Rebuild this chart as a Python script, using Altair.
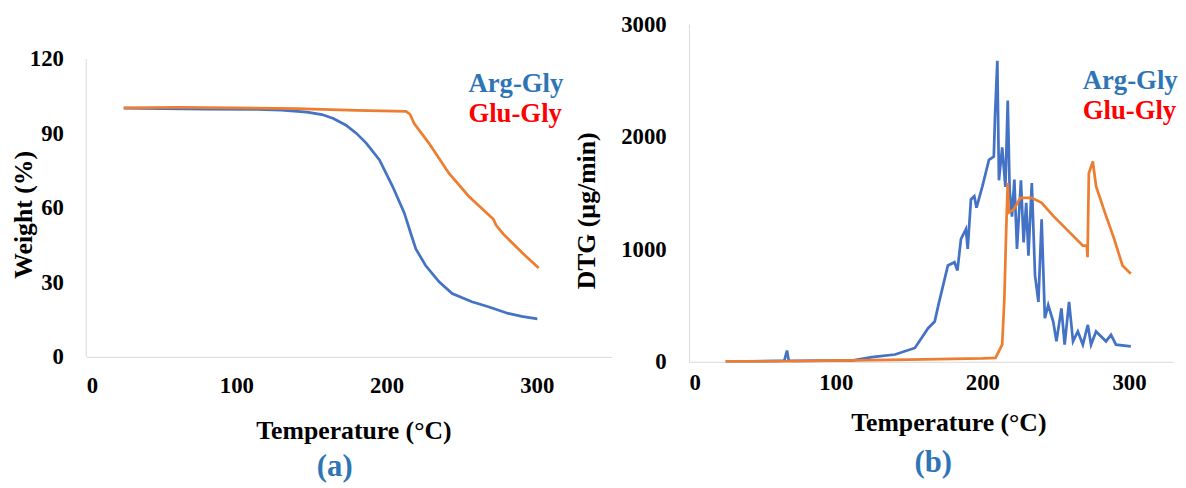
import altair as alt
import pandas as pd

# ---------------- data ----------------
# (a) TGA weight (%)
tga_arg_T = [25, 50, 80, 114, 130, 147, 157, 164.6, 173, 180, 186.6, 195.3, 204, 211.8, 216,
             219.5, 226, 235, 243.7, 256.8, 267.8, 281, 290, 300.4]
tga_arg_W = [100.2, 100, 99.8, 99.7, 99.4, 98.6, 97.6, 96, 93.3, 90, 86, 79.3, 68.7, 58, 50,
             43.5, 36.8, 30.2, 25.5, 22.2, 20.2, 17.5, 16.3, 15.3]
tga_glu_T = [25, 60, 100, 140, 180, 213, 215.6, 218.4, 228.3, 241.5, 254.7, 271.2, 273, 277.8, 290, 301.3]
tga_glu_W = [100.3, 100.5, 100.3, 100, 99.3, 98.9, 97.7, 94, 86, 74, 64.7, 55.4, 53, 49.4, 42.1, 35.8]

# (b) DTG (µg/min)
dtg_arg_T = [25, 40, 60, 65, 66.8, 68, 72, 90, 111, 124.7, 140.5, 154, 163, 167.5, 170, 176.5, 181,
             183, 185.4, 188.8, 190, 192.2, 194.5, 196, 200, 204.5, 207.8, 208.6, 210.2, 211.3,
             213.5, 215.7, 217.3, 218.6, 220.2, 221.8, 223.6, 226.3, 228.1, 229.9, 231.4, 233.7,
             235.9, 238.2, 240.4, 242.6, 244.9, 248.3, 250.5, 253.9, 256.1, 259.1, 261.8, 265.1,
             268.5, 271.9, 274.1, 277.5, 284.3, 287.7, 291.1, 301.2]
dtg_arg_V = [5, 5, 8, 10, 100, 10, 8, 10, 11, 41, 65, 123, 299, 358, 504, 856, 885,
             812, 1091, 1179, 1003, 1443, 1472, 1370, 1560, 1795, 1824, 2176, 2675, 1613,
             1906, 1554, 2323, 1525, 1290, 1619, 1003, 1613, 1062, 1413, 944, 1589,
             768, 533, 1267, 387, 504, 358, 182, 475, 152, 533, 182, 270,
             152, 328, 152, 270, 182, 240, 152, 138]
dtg_glu_T = [25, 60, 100, 150, 200, 209, 213.5, 215, 216.2, 217.3, 218, 221.4, 225.9, 233.7, 240.4,
             248.3, 257.3, 268.5, 271.2, 271.7, 272.6, 275.3, 277.5, 284.3, 289.9, 295.5, 301.2]
dtg_glu_V = [5, 5, 10, 20, 30, 35, 152, 563, 1150, 1589, 1326, 1355, 1458, 1458, 1413,
             1297, 1179, 1032, 1032, 930, 1677, 1780, 1560, 1297, 1091, 856, 783]

series = ["Arg-Gly", "Glu-Gly"]
label_colors = ["#2E75B6", "#FF0000"]
line_colors = ["#4472C4", "#ED7D31"]
legend_a_T = [254.5, 254.5]
legend_a_W = [110, 97.7]
legend_b_T = [268.4, 268.4]
legend_b_V = [2499, 2226]
panel_labels = ["(a)", "(b)"]
panel_a_pos = [165.5, -44.3]
panel_b_pos = [166.5, -897]

FONT = "Liberation Serif"
AXIS_GREY = "#D9D9D9"


def axis_common(**kw):
    base = dict(grid=False, ticks=False, tickSize=0, domainColor=AXIS_GREY,
                labelFont=FONT, labelFontSize=23, labelFontWeight="bold", labelColor="#000000",
                titleFont=FONT, titleFontSize=26, titleFontWeight="bold", titleColor="#000000",
                titleBaseline="middle")
    base.update(kw)
    return alt.Axis(**base)


# ---------------- panel (a) ----------------
da_arg = pd.DataFrame({"T": tga_arg_T, "W": tga_arg_W})
da_glu = pd.DataFrame({"T": tga_glu_T, "W": tga_glu_W})

xa = alt.X("T:Q", scale=alt.Scale(domain=[0, 350], nice=False),
           axis=axis_common(values=[0, 100, 200, 300], title="Temperature (°C)",
                            labelPadding=18, titleX=270, titleY=74))
ya = alt.Y("W:Q", scale=alt.Scale(domain=[0, 133.95], nice=False),
           axis=axis_common(values=[0, 30, 60, 90, 120], title="Weight (%)", domain=False,
                            labelPadding=23, titleX=-63, titleY=192, titleAngle=270))

a_rule = alt.Chart(pd.DataFrame({"T": [0], "W": [0], "W2": [120]})).mark_rule(
    color=AXIS_GREY, strokeWidth=1).encode(x=xa, y="W:Q", y2="W2:Q")
a_arg = alt.Chart(da_arg).mark_line(color=line_colors[0], strokeWidth=2.75).encode(x=xa, y=ya)
a_glu = alt.Chart(da_glu).mark_line(color=line_colors[1], strokeWidth=2.75).encode(x="T:Q", y="W:Q")
a_leg = alt.Chart(pd.DataFrame({"T": legend_a_T, "W": legend_a_W, "s": series, "c": label_colors})).mark_text(
    align="left", baseline="middle", font=FONT, fontSize=27, fontWeight="bold").encode(
    x="T:Q", y="W:Q", text="s:N", color=alt.Color("c:N", scale=None))
a_lab = alt.Chart(pd.DataFrame({"T": [panel_a_pos[0]], "W": [panel_a_pos[1]], "s": [panel_labels[0]]})).mark_text(
    align="center", baseline="middle", font=FONT, fontSize=31, fontWeight="bold", color="#2E75B6").encode(
    x="T:Q", y="W:Q", text="s:N")

panel_a = alt.layer(a_arg, a_rule, a_glu, a_leg, a_lab).properties(width=531, height=336)

# ---------------- panel (b) ----------------
db_arg = pd.DataFrame({"T": dtg_arg_T, "V": dtg_arg_V})
db_glu = pd.DataFrame({"T": dtg_glu_T, "V": dtg_glu_V})

xb = alt.X("T:Q", scale=alt.Scale(domain=[0, 330], nice=False),
           axis=axis_common(values=[0, 100, 200, 300], title="Temperature (°C)",
                            labelPadding=10, titleX=262, titleY=61))
yb = alt.Y("V:Q", scale=alt.Scale(domain=[0, 3000], nice=False),
           axis=axis_common(values=[0, 1000, 2000, 3000], format="d", title="DTG (µg/min)",
                            labelPadding=23, titleX=-103, titleY=188, titleAngle=270))

b_arg = alt.Chart(db_arg).mark_line(color=line_colors[0], strokeWidth=2.75).encode(x=xb, y=yb)
b_glu = alt.Chart(db_glu).mark_line(color=line_colors[1], strokeWidth=2.75).encode(x="T:Q", y="V:Q")
b_leg = alt.Chart(pd.DataFrame({"T": legend_b_T, "V": legend_b_V, "s": series, "c": label_colors})).mark_text(
    align="left", baseline="middle", font=FONT, fontSize=27, fontWeight="bold").encode(
    x="T:Q", y="V:Q", text="s:N", color=alt.Color("c:N", scale=None))
b_lab = alt.Chart(pd.DataFrame({"T": [panel_b_pos[0]], "V": [panel_b_pos[1]], "s": [panel_labels[1]]})).mark_text(
    align="center", baseline="middle", font=FONT, fontSize=31, fontWeight="bold", color="#2E75B6").encode(
    x="T:Q", y="V:Q", text="s:N")

panel_b = alt.layer(b_arg, b_glu, b_leg, b_lab).properties(width=489, height=341)

chart = alt.hconcat(panel_a, panel_b, spacing=78, bounds="flush").properties(
    padding={"left": 3, "top": 3, "right": 0, "bottom": 0}
).configure(background="white").configure_view(stroke=None)

chart.save("out.html", embed_options={"renderer": "svg", "actions": False})
